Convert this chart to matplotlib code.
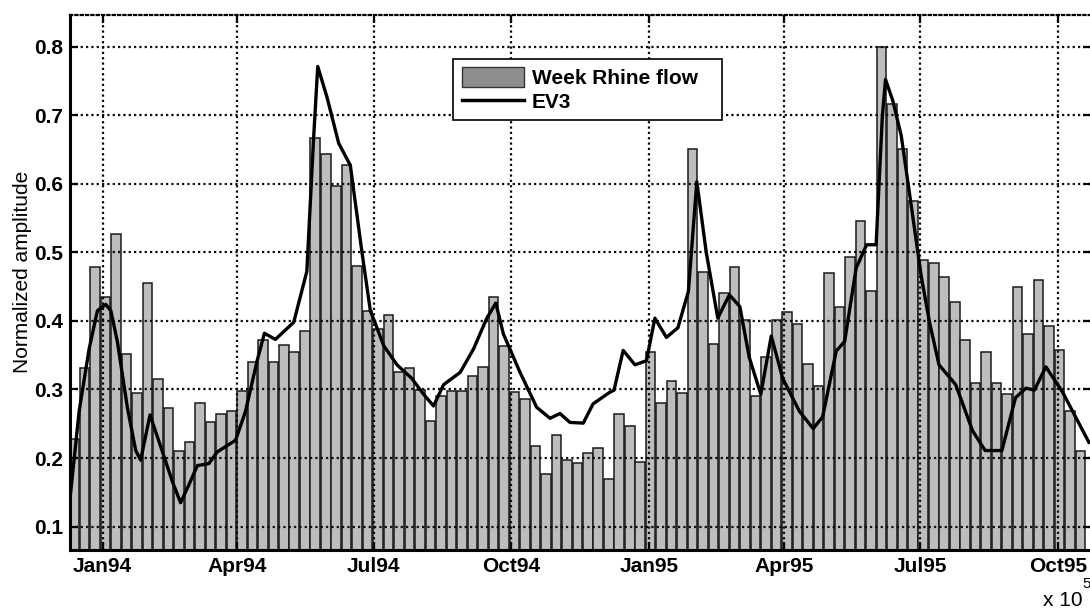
import matplotlib
matplotlib.use("Agg")
import matplotlib.pyplot as plt
from matplotlib.patches import Patch
from matplotlib.lines import Line2D
import numpy as np

# weekly Rhine flow, one bar per week starting 13 Dec 1993
START = np.datetime64("1993-12-13")
FLOW = [0.228, 0.331, 0.479, 0.435, 0.527, 0.352, 0.295, 0.456, 0.316, 0.273,
        0.211, 0.224, 0.280, 0.252, 0.264, 0.269, 0.298, 0.340, 0.372, 0.340,
        0.365, 0.355, 0.385, 0.667, 0.644, 0.596, 0.627, 0.480, 0.415, 0.388,
        0.408, 0.325, 0.331, 0.299, 0.254, 0.290, 0.298, 0.298, 0.320, 0.333,
        0.435, 0.363, 0.296, 0.286, 0.218, 0.177, 0.234, 0.197, 0.193, 0.207,
        0.214, 0.170, 0.265, 0.247, 0.194, 0.354, 0.280, 0.312, 0.295, 0.650,
        0.472, 0.367, 0.441, 0.479, 0.401, 0.290, 0.347, 0.401, 0.413, 0.395,
        0.337, 0.305, 0.470, 0.421, 0.493, 0.545, 0.443, 0.800, 0.716, 0.650,
        0.575, 0.489, 0.485, 0.464, 0.427, 0.372, 0.309, 0.354, 0.309, 0.293,
        0.449, 0.381, 0.459, 0.393, 0.357, 0.269, 0.211]

# EV3 curve, x given in weeks after START
EV3_WEEK = [-0.4, 0.48, 1.43, 2.23, 3.02, 3.5, 4.13, 5.08, 5.88, 6.35, 7.24, 8.26,
            9.37, 10.16, 10.95, 11.75, 12.86, 13.65, 15.4, 16.35, 17.46, 18.16,
            19.2, 20.95, 22.2, 22.86, 23.24, 24.13, 25.24, 26.35, 27.46, 28.26,
            29.53, 30.8, 32.23, 33.34, 34.29, 35.24, 36.83, 38.1, 39.37, 40.23,
            40.95, 42.54, 44.13, 45.4, 46.35, 47.3, 48.57, 49.5, 51.1, 51.5,
            52.38, 53.5, 54.6, 55.4, 56.5, 57.6, 58.6, 59.4, 60.3, 61.4, 62.5,
            63.5, 64.4, 65.5, 66.5, 67.6, 69.2, 70.5, 71.4, 72.7, 73.5, 74.6,
            75.6, 76.5, 77.1, 77.4, 78.1, 78.9, 79.8, 80.8, 81.6, 82.5, 84.1,
            85.7, 86.9, 88.5, 89.8, 90.8, 91.6, 92.7, 94.3, 96.8]
EV3 = [0.140, 0.268, 0.359, 0.415, 0.424, 0.415, 0.370, 0.274, 0.211, 0.197, 0.263,
       0.217, 0.166, 0.135, 0.161, 0.189, 0.192, 0.209, 0.226, 0.268, 0.342, 0.382,
       0.373, 0.398, 0.472, 0.670, 0.771, 0.726, 0.659, 0.627, 0.500, 0.415, 0.364,
       0.336, 0.316, 0.293, 0.276, 0.307, 0.325, 0.359, 0.404, 0.426, 0.381, 0.325,
       0.274, 0.258, 0.265, 0.252, 0.251, 0.279, 0.296, 0.299, 0.357, 0.336, 0.342,
       0.404, 0.376, 0.390, 0.443, 0.603, 0.500, 0.404, 0.438, 0.421, 0.347, 0.293,
       0.378, 0.316, 0.268, 0.243, 0.260, 0.356, 0.370, 0.477, 0.511, 0.511, 0.698,
       0.752, 0.721, 0.670, 0.574, 0.466, 0.398, 0.336, 0.307, 0.240, 0.211, 0.211,
       0.288, 0.302, 0.299, 0.333, 0.296, 0.223]

TICK_DATES = ["1994-01-01", "1994-04-01", "1994-07-01", "1994-10-01",
              "1995-01-01", "1995-04-01", "1995-07-01", "1995-10-01"]
TICK_LABELS = ["Jan94", "Apr94", "Jul94", "Oct94", "Jan95", "Apr95", "Jul95", "Oct95"]

plt.rcParams["font.family"] = ["Liberation Sans", "DejaVu Sans"]

bar_dates = START + np.arange(len(FLOW)) * np.timedelta64(7, "D")
ev3_dates = START + (np.array(EV3_WEEK) * 7 * 24).astype("timedelta64[h]")
ticks = np.array(TICK_DATES, dtype="datetime64[D]")

fig = plt.figure(figsize=(10.9, 6.09), dpi=100)
ax = fig.add_axes([70 / 1090, 1 - 550 / 609, 1021 / 1090, 535 / 609])

ax.bar(bar_dates, FLOW, width=6.4, color="#bdbdbd", edgecolor="#1a1a1a",
       linewidth=1.1, zorder=1)
ax.plot(ev3_dates, EV3, color="black", linewidth=2.4, zorder=3)

ax.set_xlim(np.datetime64("1993-12-10T06"), np.datetime64("1995-10-23"))
ax.set_ylim(0.066, 0.846)
ax.set_yticks(np.arange(0.1, 0.81, 0.1))
ax.set_yticklabels([f"{v:.1f}" for v in np.arange(0.1, 0.81, 0.1)])
ax.set_xticks(ticks)
ax.set_xticklabels(TICK_LABELS)

ax.set_axisbelow(False)
ax.grid(True, color="#0a0a0a", linestyle=(0, (1, 1.4)), linewidth=1.6, zorder=2)
ax.tick_params(direction="in", length=6, width=1.6, top=True, right=True,
               labelsize=15, pad=5)
for lab in ax.get_xticklabels() + ax.get_yticklabels():
    lab.set_fontweight("bold")

ax.spines["left"].set_linewidth(2.2)
ax.spines["bottom"].set_linewidth(2.2)
ax.spines["top"].set_linestyle((0, (1, 1.4)))
ax.spines["top"].set_linewidth(1.6)
ax.spines["right"].set_visible(False)

ax.set_ylabel("Normalized amplitude", fontsize=15)
ax.yaxis.set_label_coords(-0.037, 0.52)

handles = [Patch(facecolor="#8e8e8e", edgecolor="#333333", linewidth=1.0),
           Line2D([], [], color="black", linewidth=2.5)]
leg = ax.legend(handles, ["Week Rhine flow", "EV3"],
                bbox_to_anchor=(0.3653, 0.82, 0.2831, 0.1171),
                loc="upper left", mode="expand", fancybox=False, framealpha=1,
                edgecolor="black", borderpad=0.4, handlelength=3.0,
                handleheight=1.05, handletextpad=0.35, labelspacing=0.15,
                prop={"size": 15, "weight": "bold"})
leg.get_frame().set_linewidth(1.2)
leg.set_zorder(5)

fig.text(1043 / 1090, 1 - 606 / 609, "x 10", fontsize=15, ha="left", va="baseline")
fig.text(1082 / 1090, 1 - 588 / 609, "5", fontsize=11, ha="left", va="baseline")

fig.savefig("out.png", dpi=100)
